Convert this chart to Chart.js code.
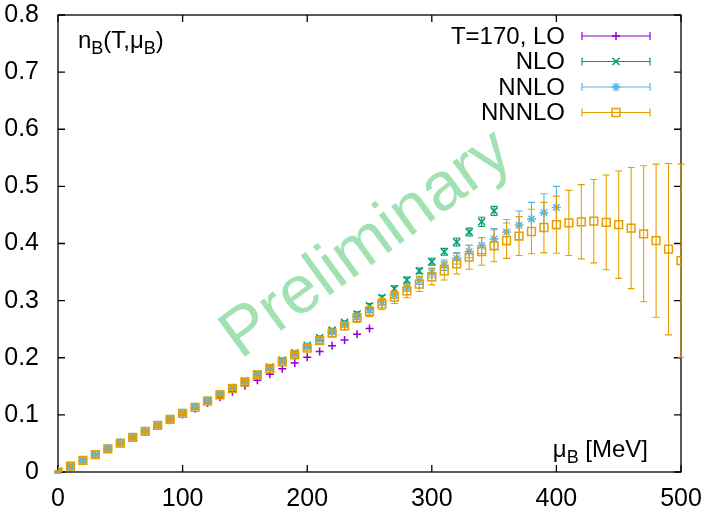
<!DOCTYPE html>
<html><head><meta charset="utf-8">
<script src="https://cdn.jsdelivr.net/npm/chart.js@4"></script>
<style>html,body{margin:0;padding:0;background:#fff;}canvas{display:block;}</style>
</head><body>
<canvas id="c" width="706" height="509"></canvas>
<script>
// ---- data ----
const muValues = [0,10,20,30,40,50,60,70,80,90,100,110,120,130,140,150,160,170,180,190,200,210,220,230,240,250,260,270,280,290,300,310,320,330,340,350,360,370,380,390,400,410,420,430,440,450,460,470,480,490,500];
const seriesLabels = ['T=170, LO','NLO','NNLO','NNNLO'];
const loValues = [0,0.0101,0.0201,0.0302,0.0402,0.0503,0.0603,0.0704,0.0804,0.0905,0.1005,0.1106,0.1206,0.1307,0.1407,0.1508,0.1608,0.1709,0.1809,0.1910,0.2010,0.2111,0.2211,0.2312,0.2412,0.2513];
const nloValues = [0,0.0101,0.0202,0.0303,0.0405,0.0507,0.0610,0.0714,0.0819,0.0925,0.1033,0.1142,0.1253,0.1365,0.1480,0.1596,0.1715,0.1836,0.1960,0.2086,0.2216,0.2348,0.2483,0.2622,0.2764,0.2910,0.3055,0.3208,0.3362,0.3520,0.3682,0.3855,0.4025,0.4200,0.4380,0.4570];
const nloErrors = [0.001,0.001,0.001,0.001,0.001,0.001,0.001,0.001,0.001,0.001,0.001,0.002,0.002,0.002,0.002,0.002,0.002,0.002,0.002,0.002,0.002,0.003,0.003,0.003,0.004,0.004,0.004,0.005,0.005,0.005,0.006,0.006,0.007,0.007,0.008,0.008];
const nnloValues = [0,0.0101,0.0202,0.0303,0.0405,0.0507,0.0610,0.0713,0.0818,0.0923,0.1030,0.1138,0.1248,0.1358,0.1471,0.1585,0.1700,0.1815,0.1935,0.2060,0.2190,0.2320,0.2450,0.2578,0.2710,0.2840,0.2970,0.3100,0.3225,0.3355,0.3490,0.3620,0.3740,0.3860,0.3965,0.4080,0.4200,0.4320,0.4430,0.4540,0.4630];
const nnloErrors = [0.002,0.002,0.002,0.002,0.002,0.002,0.002,0.002,0.002,0.002,0.002,0.002,0.002,0.002,0.002,0.002,0.002,0.002,0.002,0.002,0.002,0.003,0.003,0.004,0.004,0.005,0.005,0.006,0.006,0.007,0.008,0.009,0.010,0.011,0.014,0.018,0.022,0.025,0.029,0.033,0.037];
const nnnloValues = [0,0.0101,0.0202,0.0303,0.0404,0.0506,0.0608,0.0711,0.0815,0.0920,0.1026,0.1133,0.1241,0.1350,0.1461,0.1572,0.1700,0.1810,0.1930,0.2050,0.2170,0.2300,0.2430,0.2560,0.2700,0.2810,0.2940,0.3060,0.3170,0.3290,0.3415,0.3520,0.3645,0.3760,0.3860,0.3960,0.4050,0.4130,0.4210,0.4280,0.4330,0.4360,0.4380,0.4390,0.4370,0.4330,0.4270,0.4170,0.4050,0.3900,0.3700];
const nnnloErrors = [0.002,0.002,0.002,0.002,0.002,0.002,0.002,0.002,0.002,0.002,0.002,0.003,0.003,0.003,0.003,0.003,0.003,0.003,0.004,0.004,0.004,0.005,0.006,0.007,0.008,0.009,0.010,0.011,0.012,0.013,0.014,0.016,0.018,0.021,0.024,0.028,0.031,0.034,0.039,0.044,0.050,0.057,0.065,0.073,0.083,0.094,0.106,0.119,0.134,0.150,0.169];
const xTickValues = [0,100,200,300,400,500];
const yTickValues = [0,0.1,0.2,0.3,0.4,0.5,0.6,0.7,0.8];

const FONT = "'Liberation Sans', Arial, Helvetica, sans-serif";
const colors = ['#9400d3','#009e73','#56b4e9','#e69f00'];
const styles = ['cross','crossRot','star','rect'];
const radii = [4,5,4.5,5.5];

function pts(vals){ return vals.map((v,i)=>({x:muValues[i], y:v})); }

function drawMarker(ctx, style, x, y, r){
  ctx.beginPath();
  if(style==='cross'){ ctx.moveTo(x-r,y);ctx.lineTo(x+r,y);ctx.moveTo(x,y-r);ctx.lineTo(x,y+r); }
  else if(style==='crossRot'){ const d=r*Math.SQRT1_2; ctx.moveTo(x-d,y-d);ctx.lineTo(x+d,y+d);ctx.moveTo(x-d,y+d);ctx.lineTo(x+d,y-d); }
  else if(style==='star'){ const d=r*Math.SQRT1_2; ctx.moveTo(x-r,y);ctx.lineTo(x+r,y);ctx.moveTo(x,y-r);ctx.lineTo(x,y+r);ctx.moveTo(x-d,y-d);ctx.lineTo(x+d,y+d);ctx.moveTo(x-d,y+d);ctx.lineTo(x+d,y-d); }
  else if(style==='rect'){ const s=r*Math.SQRT1_2; ctx.rect(x-s,y-s,2*s,2*s); }
  ctx.stroke();
}

function richText(ctx, segs, x, y, size, align){
  const sub = size*0.75;
  let w=0;
  segs.forEach(s=>{ ctx.font=(s.sub?sub:size)+'px '+FONT; w+=ctx.measureText(s.t).width; });
  let cx = align==='right' ? x-w : x;
  ctx.textAlign='left'; ctx.textBaseline='alphabetic';
  segs.forEach(s=>{ ctx.font=(s.sub?sub:size)+'px '+FONT; ctx.fillText(s.t,cx,s.sub?y+size*0.25:y); cx+=ctx.measureText(s.t).width; });
}

const decor = {
  id:'decor',
  beforeDatasetsDraw(chart){
    const ctx=chart.ctx, a=chart.chartArea, xs=chart.scales.x, ys=chart.scales.y;
    ctx.save();
    ctx.translate(367,245); ctx.rotate(-36*Math.PI/180);
    ctx.fillStyle='rgb(162,226,178)'; ctx.font='68px '+FONT; ctx.textAlign='center'; ctx.textBaseline='middle';
    ctx.fillText('Preliminary',0,0);
    ctx.restore();
    ctx.save();
    ctx.strokeStyle='#000'; ctx.lineWidth=1.3;
    ctx.strokeRect(a.left,a.top,a.right-a.left,a.bottom-a.top);
    const tl=7;
    ctx.beginPath();
    xTickValues.forEach(v=>{ const px=xs.getPixelForValue(v); ctx.moveTo(px,a.bottom);ctx.lineTo(px,a.bottom-tl);ctx.moveTo(px,a.top);ctx.lineTo(px,a.top+tl); });
    yTickValues.forEach(v=>{ const py=ys.getPixelForValue(v); ctx.moveTo(a.left,py);ctx.lineTo(a.left+tl,py);ctx.moveTo(a.right,py);ctx.lineTo(a.right-tl,py); });
    ctx.stroke();
    ctx.fillStyle='#000';
    richText(ctx,[{t:'n'},{t:'B',sub:true},{t:'(T,μ'},{t:'B',sub:true},{t:')'}],78,48,24,'left');
    richText(ctx,[{t:'μ'},{t:'B',sub:true},{t:' [MeV]'}],648,457,24,'right');
    chart.data.datasets.forEach((ds,i)=>{
      const y=36+i*25.5;
      ctx.font='24px '+FONT; ctx.textAlign='right'; ctx.textBaseline='middle'; ctx.fillStyle='#000';
      ctx.fillText(ds.label,565,y+1);
      ctx.strokeStyle=ds.borderColor; ctx.lineWidth=1.2;
      ctx.beginPath(); ctx.moveTo(582,y);ctx.lineTo(650,y);ctx.moveTo(582,y-4);ctx.lineTo(582,y+4);ctx.moveTo(650,y-4);ctx.lineTo(650,y+4); ctx.stroke();
      ctx.lineWidth=1.5;
      drawMarker(ctx,ds.pointStyle,616,y,ds.pointRadius);
    });
    ctx.restore();
  },
  beforeDatasetDraw(chart,args){
    const ds=chart.data.datasets[args.index];
    if(!ds.errors) return;
    const ctx=chart.ctx, xs=chart.scales.x, ys=chart.scales.y;
    ctx.save(); ctx.strokeStyle=ds.borderColor; ctx.lineWidth=1.1;
    ctx.beginPath();
    ds.data.forEach((p,i)=>{
      const e=ds.errors[i]; const px=xs.getPixelForValue(p.x);
      const y1=ys.getPixelForValue(p.y-e), y2=ys.getPixelForValue(p.y+e);
      ctx.moveTo(px,y1);ctx.lineTo(px,y2);
      ctx.moveTo(px-3.5,y1);ctx.lineTo(px+3.5,y1);
      ctx.moveTo(px-3.5,y2);ctx.lineTo(px+3.5,y2);
    });
    ctx.stroke(); ctx.restore();
  }
};

const valueSets=[loValues,nloValues,nnloValues,nnnloValues];
const errorSets=[null,nloErrors,nnloErrors,nnnloErrors];
const datasets = valueSets.map((vals,i)=>({
  label:seriesLabels[i], data:pts(vals), errors:errorSets[i],
  borderColor:colors[i], backgroundColor:'rgba(0,0,0,0)',
  pointStyle:styles[i], pointRadius:radii[i], pointBorderWidth:1.5,
  pointBackgroundColor:'rgba(0,0,0,0)', showLine:false, order:4-i
}));

new Chart(document.getElementById('c'),{
  type:'scatter',
  data:{datasets},
  plugins:[decor],
  options:{
    responsive:false, animation:false, devicePixelRatio:1,
    layout:{padding:{top:15,right:25,left:0,bottom:0}},
    plugins:{legend:{display:false},tooltip:{enabled:false}},
    scales:{
      x:{type:'linear',min:0,max:500,
         afterFit(s){s.height=37;s.paddingLeft=0;s.paddingRight=0;},
         afterBuildTicks(s){s.ticks=xTickValues.map(v=>({value:v}));},
         grid:{display:false,drawTicks:false}, border:{display:false},
         ticks:{padding:12,color:'#000',font:{size:25,family:FONT},maxRotation:0}},
      y:{type:'linear',min:0,max:0.8,
         afterFit(s){s.width=58;s.paddingTop=0;s.paddingBottom=0;},
         afterBuildTicks(s){s.ticks=yTickValues.map(v=>({value:v}));},
         grid:{display:false,drawTicks:false}, border:{display:false},
         ticks:{padding:19,color:'#000',font:{size:25,family:FONT}}}
    }
  }
});
</script>
</body></html>
